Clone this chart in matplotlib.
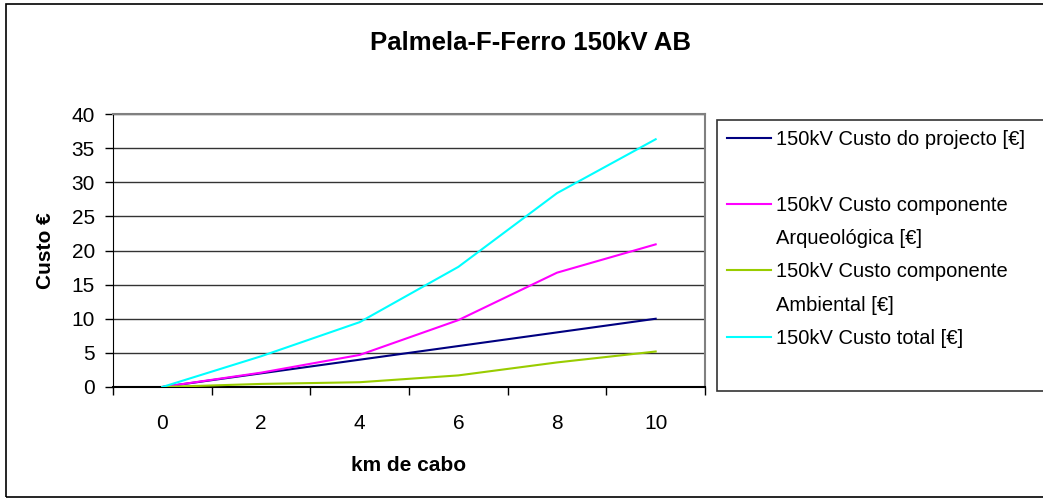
import numpy as np
import matplotlib
matplotlib.use("Agg")
import matplotlib.pyplot as plt
from matplotlib.patches import Rectangle
from matplotlib.lines import Line2D

plt.rcParams['font.family'] = ['Liberation Sans', 'DejaVu Sans']

# data
km = ["0", "2", "4", "6", "8", "10"]
custo_projecto = [0, 2.0, 4.0, 6.0, 8.0, 10.0]
custo_arqueologica = [0, 2.1, 4.7, 9.8, 16.75, 20.9]
custo_ambiental = [0, 0.45, 0.7, 1.7, 3.6, 5.2]
custo_total = [0, 4.5, 9.5, 17.6, 28.4, 36.3]

# legend text, split the way the original wraps it
labels = [
    ["150kV Custo do projecto [€]", " "],
    ["150kV Custo componente", "Arqueológica [€]"],
    ["150kV Custo componente", "Ambiental [€]"],
    ["150kV Custo total [€]", " "],
]
colors = ["#000080", "#FF00FF", "#99CC00", "#00FFFF"]

W, H = 1043, 501
fig = plt.figure(figsize=(W / 100, H / 100), dpi=100)
ax = fig.add_axes([113 / W, 1 - 387 / H, 592 / W, 273 / H])

x = np.arange(len(km))
series = [custo_projecto, custo_arqueologica, custo_ambiental, custo_total]
handles, texts = [], []
blank = Line2D([], [], color="none")
for vals, lab, col in zip(series, labels, colors):
    line, = ax.plot(x, vals, color=col, lw=1.5, zorder=3)
    handles += [line, blank]
    texts += lab

ax.set_xlim(-0.5, len(km) - 0.5)
ax.set_ylim(0, 40)
ax.set_yticks(np.arange(0, 41, 5))
ax.yaxis.grid(True, color="#333333", lw=1.0)
ax.set_axisbelow(True)

# category axis: tick marks between categories, labels centred
ax.set_xticks(np.arange(-0.5, len(km), 1.0))
ax.set_xticklabels([])
ax.set_xticks(x, minor=True)
ax.set_xticklabels(km, minor=True)
ax.tick_params(axis="x", which="major", direction="out", length=6, width=1, color="black")
ax.tick_params(axis="x", which="minor", length=0, pad=19.5, labelsize=15)
ax.tick_params(axis="y", direction="out", length=6, width=1, pad=7, labelsize=15)

for s in ["top", "right"]:
    ax.spines[s].set_color("#808080")
    ax.spines[s].set_linewidth(1.5)
ax.spines["left"].set_color("black")
ax.spines["bottom"].set_color("black")
ax.spines["bottom"].set_linewidth(1.5)

ax.set_xlabel("km de cabo", fontsize=15, fontweight="bold", labelpad=16.5)
ax.set_ylabel("Custo €", fontsize=15, fontweight="bold", labelpad=12)

fig.text(531 / W, 1 - 50 / H, "Palmela-F-Ferro 150kV AB", ha="center", va="baseline",
         fontsize=18.5, fontweight="bold")

# legend box runs past the right edge of the chart, as in the original
leg = fig.legend(handles, texts, loc="upper left",
                 bbox_to_anchor=(717 / W, 1 - 389 / H, 0.4, 269 / H), mode="expand",
                 fontsize=14.5, frameon=True, fancybox=False, handlelength=2.2,
                 handletextpad=0.25, labelspacing=0.7, borderpad=0.5, borderaxespad=0)
leg.get_frame().set_edgecolor("black")
leg.get_frame().set_linewidth(1.2)

# outer chart border
fig.patches.append(Rectangle((6 / W, 4 / H), 1.2, 493 / H, transform=fig.transFigure,
                             fill=False, edgecolor="black", lw=1.2))

fig.savefig("out.png", dpi=100)
